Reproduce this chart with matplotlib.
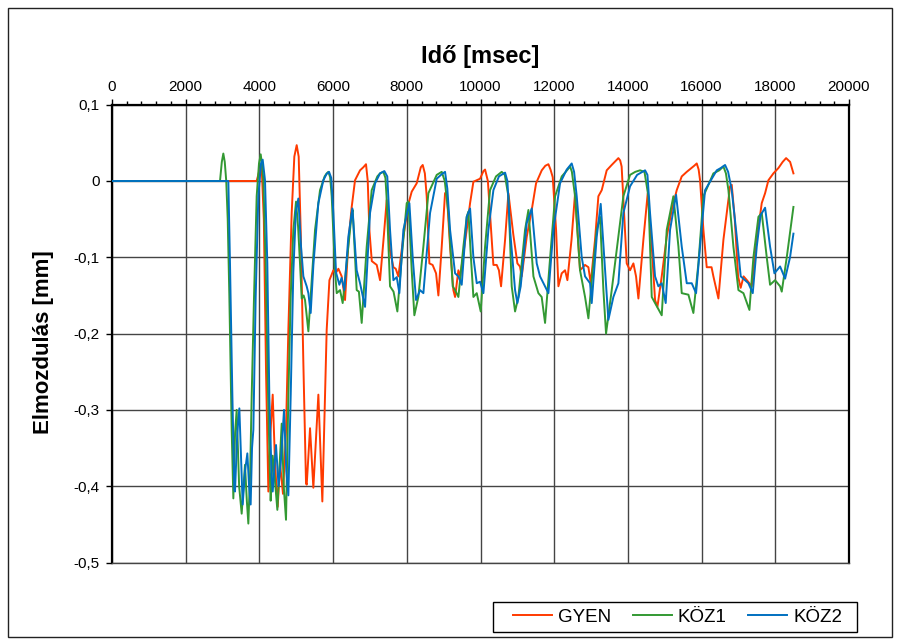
import matplotlib
matplotlib.use("Agg")
import matplotlib.pyplot as plt
from matplotlib.patches import Rectangle
from matplotlib.ticker import MultipleLocator, FuncFormatter

plt.rcParams['font.family'] = ['Liberation Sans', 'DejaVu Sans']

# ---------------- data ----------------
gyen_t = [0, 3926, 3990, 4060, 4120, 4180, 4243, 4300, 4361, 4424, 4497, 4560, 4640, 4720,
          4786, 4876, 4948, 5012, 5066, 5120, 5193, 5265, 5284, 5374, 5464, 5600, 5708, 5826,
          5900, 6007, 6080, 6143, 6233, 6324, 6415, 6505, 6595, 6731, 6820, 6893, 6940, 6984, 7050, 7184,
          7274, 7380, 7455, 7540, 7636, 7700, 7771, 7907, 8043, 8133, 8269, 8380, 8432, 8490, 8540, 8613,
          8700, 8794, 8857, 8948, 9038, 9083, 9174, 9264, 9310, 9400, 9450, 9626, 9717, 9807,
          9988, 10080, 10124, 10200, 10287, 10350, 10440, 10500, 10558, 10667, 10757, 10890, 11001,
          11070, 11119, 11255, 11390, 11508, 11662, 11760, 11843, 11900, 11960, 12051, 12114, 12204, 12295,
          12358, 12470, 12566, 12701, 12837, 12928, 12991, 13108, 13199, 13290, 13425, 13560,
          13680, 13742, 13790, 13830, 13896, 13968, 14058, 14149, 14221, 14285, 14420, 14538, 14647, 14737,
          14801, 14918, 15054, 15190, 15325, 15461, 15597, 15800, 15868, 15920, 15958, 16049, 16139, 16270,
          16320, 16456, 16592, 16682, 16773, 16818, 16900, 16990, 17060, 17140, 17230, 17361,
          17497, 17632, 17723, 17813, 17949, 18085, 18200, 18293, 18402, 18492]
gyen_y = [0, 0, 0.012, 0.02, -0.05, -0.25, -0.407, -0.33, -0.28, -0.37, -0.427, -0.37, -0.41, -0.33,
          -0.195, -0.042, 0.032, 0.047, 0.032, -0.064, -0.239, -0.396, -0.398, -0.324, -0.402, -0.28, -0.42, -0.195,
          -0.13, -0.117, -0.12, -0.115, -0.125, -0.156, -0.08, -0.034, 0.001, 0.014, 0.018, 0.022, 0.0, -0.064, -0.105, -0.11,
          -0.13, -0.07, -0.025, -0.09, -0.113, -0.115, -0.125, -0.073, -0.03, -0.014, -0.003, 0.018, 0.021, 0.01, -0.02, -0.108,
          -0.11, -0.121, -0.15, -0.086, -0.016, -0.014, -0.086, -0.143, -0.152, -0.117, -0.125, -0.064, -0.029, -0.001,
          0.003, 0.013, 0.015, 0.0, -0.064, -0.11, -0.11, -0.117, -0.138, -0.077, -0.016, -0.07, -0.108,
          -0.112, -0.125, -0.073, -0.038, -0.003, 0.014, 0.02, 0.022, 0.015, 0.005, -0.064, -0.138, -0.121, -0.117,
          -0.13, -0.077, -0.016, -0.117, -0.11, -0.113, -0.134, -0.077, -0.02, -0.012, 0.014, 0.021,
          0.027, 0.03, 0.027, 0.019, -0.042, -0.108, -0.117, -0.108, -0.125, -0.154, -0.077, -0.016, -0.086, -0.156,
          -0.165, -0.125, -0.073, -0.038, -0.012, 0.006, 0.012, 0.02, 0.023, 0.015, 0.001, -0.064, -0.113, -0.113,
          -0.125, -0.154, -0.077, -0.042, -0.007, -0.005, -0.05, -0.125, -0.14, -0.125, -0.13, -0.138,
          -0.077, -0.029, -0.016, 0.001, 0.01, 0.017, 0.025, 0.03, 0.025, 0.01]

koz1_t = [0, 2931, 2980, 3021, 3060, 3100, 3140, 3184, 3248, 3293, 3340, 3383, 3450, 3519, 3570,
          3609, 3660, 3700, 3750, 3790, 3854, 3926, 3989, 4035, 4070, 4107, 4170, 4225, 4288,
          4306, 4360, 4400, 4487, 4540, 4605, 4660, 4722, 4786, 4849, 4921, 4994, 5050, 5102,
          5148, 5200, 5238, 5329, 5419, 5510, 5645, 5770, 5826, 5871, 5920, 5962, 6052, 6098, 6188, 6260,
          6369, 6505, 6532, 6595, 6640, 6700, 6776, 6912, 7047, 7200, 7274, 7364, 7420, 7450, 7545, 7640,
          7744, 7862, 7998, 8043, 8133, 8205, 8314, 8450, 8586, 8812, 8880, 8948, 9030, 9129, 9246, 9310,
          9400, 9536, 9626, 9671, 9740, 9807, 9898, 10006, 10124, 10259, 10420, 10576, 10660, 10757, 10847,
          10938, 11028, 11209, 11300, 11436, 11571, 11660, 11752, 11890, 12024, 12205, 12330, 12431, 12480,
          12566, 12701, 12837, 12928, 13018, 13154, 13244, 13335, 13407, 13561, 13742, 13877,
          14058, 14200, 14330, 14450, 14556, 14647, 14737, 14918, 15054, 15234, 15371, 15461, 15642, 15777,
          15913, 16049, 16320, 16480, 16592, 16660, 16728, 16863, 16999, 17135, 17298, 17406, 17542, 17632,
          17768, 17858, 17994, 18130, 18175, 18311, 18492]
koz1_y = [0, 0, 0.025, 0.036, 0.025, 0.0, -0.05, -0.15, -0.326, -0.416, -0.33, -0.30, -0.40, -0.436, -0.40,
          -0.372, -0.42, -0.449, -0.38, -0.283, -0.152, -0.02, 0.023, 0.035, 0.022, 0.001, -0.108, -0.26, -0.39,
          -0.419, -0.36, -0.38, -0.431, -0.38, -0.318, -0.40, -0.444, -0.283, -0.152, -0.064, -0.027, -0.06, -0.108,
          -0.154, -0.15, -0.156, -0.197, -0.13, -0.064, -0.012, 0.006, 0.01, 0.012, 0.005, -0.02, -0.117, -0.147, -0.143, -0.16,
          -0.108, -0.042, -0.038, -0.1, -0.143, -0.145, -0.186, -0.086, -0.012, 0.006, 0.01, 0.012, 0.004, -0.02, -0.138, -0.145,
          -0.171, -0.1, -0.029, -0.027, -0.117, -0.176, -0.152, -0.086, -0.016, 0.008, 0.01, 0.012, 0.0, -0.042, -0.138, -0.143,
          -0.152, -0.086, -0.047, -0.04, -0.1, -0.152, -0.147, -0.171, -0.086, -0.012, 0.006, 0.012, 0.008, -0.02, -0.138,
          -0.171, -0.152, -0.064, -0.038, -0.125, -0.147, -0.152, -0.186, -0.1, -0.02, 0.006, 0.013, 0.019, 0.012,
          -0.02, -0.117, -0.152, -0.18, -0.13, -0.064, -0.047, -0.143, -0.2, -0.143, -0.073, -0.02,
          0.008, 0.012, 0.014, 0.012, -0.02, -0.152, -0.16, -0.176, -0.064, -0.02, -0.086, -0.147, -0.149, -0.173,
          -0.108, -0.02, 0.01, 0.014, 0.019, 0.01, -0.012, -0.086, -0.143, -0.147, -0.169, -0.1, -0.047, -0.042,
          -0.1, -0.136, -0.13, -0.138, -0.145, -0.1, -0.034]

koz2_t = [0, 3157, 3202, 3266, 3320, 3338, 3400, 3456, 3500, 3546, 3610, 3673, 3720, 3763, 3800,
          3836, 3899, 3971, 4044, 4089, 4152, 4215, 4270, 4333, 4361, 4451, 4520, 4580, 4668,
          4730, 4786, 4850, 4920, 4990, 5057, 5130, 5193, 5283, 5329, 5392, 5465, 5600, 5736,
          5820, 5890, 5950, 6007, 6080, 6170, 6230, 6306, 6414, 6523, 6640, 6731, 6867, 7002, 7140, 7274, 7391,
          7470, 7545, 7636, 7727, 7798, 7907, 8070, 8160, 8251, 8360, 8450, 8631, 8812, 8950, 9038, 9100, 9174,
          9310, 9400, 9490, 9626, 9717, 9807, 9898, 9988, 10079, 10214, 10350, 10500, 10667, 10730, 10802,
          10938, 11001, 11091, 11255, 11390, 11526, 11616, 11752, 11843, 11978, 12159, 12340, 12475, 12540,
          12611, 12747, 12837, 12973, 13018, 13154, 13262, 13380, 13470, 13606, 13742, 13877,
          14058, 14250, 14466, 14530, 14601, 14737, 14827, 14918, 15026, 15144, 15307, 15461, 15597, 15732,
          15850, 15958, 16094, 16411, 16520, 16637, 16720, 16818, 16954, 17062, 17180, 17270, 17388, 17497,
          17600, 17723, 17858, 17976, 18130, 18266, 18400, 18492]
koz2_y = [0, 0, -0.108, -0.28, -0.405, -0.407, -0.33, -0.298, -0.36, -0.424, -0.38, -0.357, -0.40, -0.424, -0.35,
          -0.326, -0.152, -0.02, 0.023, 0.028, 0.001, -0.108, -0.283, -0.39, -0.407, -0.346, -0.40, -0.37, -0.30,
          -0.38, -0.412, -0.28, -0.12, -0.04, -0.023, -0.086, -0.125, -0.138, -0.147, -0.173, -0.11, -0.029, 0.001,
          0.009, 0.012, 0.004, -0.042, -0.12, -0.136, -0.127, -0.143, -0.073, -0.036, -0.117, -0.134, -0.165, -0.042, -0.003, 0.01, 0.013,
          0.006, -0.064, -0.13, -0.126, -0.147, -0.064, -0.029, -0.1, -0.156, -0.143, -0.147, -0.042, 0.003, 0.009, 0.012, -0.01, -0.064,
          -0.121, -0.125, -0.136, -0.047, -0.036, -0.1, -0.134, -0.132, -0.147, -0.064, -0.012, 0.006, 0.011, 0.0, -0.064,
          -0.143, -0.16, -0.138, -0.055, -0.036, -0.108, -0.125, -0.138, -0.147, -0.064, -0.003, 0.015, 0.023, 0.012,
          -0.02, -0.1, -0.125, -0.134, -0.16, -0.073, -0.03, -0.117, -0.182, -0.152, -0.134, -0.042,
          -0.007, 0.008, 0.014, 0.008, -0.042, -0.125, -0.138, -0.134, -0.16, -0.064, -0.018, -0.086, -0.134, -0.134,
          -0.147, -0.086, -0.012, 0.014, 0.017, 0.021, 0.012, -0.012, -0.073, -0.125, -0.13, -0.134, -0.147, -0.086,
          -0.045, -0.035, -0.086, -0.121, -0.112, -0.128, -0.1, -0.069]

series_names = ['GYEN', 'KÖZ1', 'KÖZ2']
x_ticks = [0, 2000, 4000, 6000, 8000, 10000, 12000, 14000, 16000, 18000, 20000]
y_ticks = [-0.5, -0.4, -0.3, -0.2, -0.1, 0.0, 0.1]
x_title = 'Idő [msec]'
y_title = 'Elmozdulás [mm]'

# ---------------- figure ----------------
W, H = 899, 643
fig = plt.figure(figsize=(W / 100, H / 100), dpi=100)
fig.patch.set_facecolor('white')

# outer chart border
fig.patches.append(Rectangle((8 / W, 1 - 637 / H), (892 - 8) / W, (637 - 8) / H,
                             transform=fig.transFigure, fill=False,
                             edgecolor='#222222', linewidth=1.0))

left, right, top, bottom = 112, 849, 104.7, 562.5
ax = fig.add_axes([left / W, 1 - bottom / H, (right - left) / W, (bottom - top) / H])

colors = ['#FF3A00', '#339933', '#0070C0']
ax.plot(gyen_t, gyen_y, color=colors[0], lw=1.4, label=series_names[0], zorder=3)
ax.plot(koz1_t, koz1_y, color=colors[1], lw=1.4, label=series_names[1], zorder=4)
ax.plot(koz2_t, koz2_y, color=colors[2], lw=1.4, label=series_names[2], zorder=5)

ax.set_xlim(0, 20000)
ax.set_ylim(-0.5, 0.1)
ax.set_xticks(x_ticks)
ax.set_yticks(y_ticks)
ax.xaxis.set_minor_locator(MultipleLocator(400))
ax.xaxis.tick_top()
ax.xaxis.set_label_position('top')

def yfmt(v, pos):
    s = '%g' % round(v, 2)
    if s == '-0':
        s = '0'
    return s.replace('.', ',')

ax.yaxis.set_major_formatter(FuncFormatter(yfmt))
ax.tick_params(axis='x', which='major', direction='out', length=4, width=1,
               labelsize=11, pad=4, top=True, bottom=False)
ax.tick_params(axis='x', which='minor', direction='out', length=3, width=1,
               top=True, bottom=False)
ax.tick_params(axis='y', which='major', direction='out', length=4, width=1,
               labelsize=11, pad=5)

ax.grid(True, which='major', color='#444444', lw=1.0, zorder=1)
ax.set_axisbelow(True)

for s in ['top', 'left', 'right']:
    ax.spines[s].set_linewidth(1.6)
    ax.spines[s].set_color('black')
ax.spines['bottom'].set_linewidth(1.0)
ax.spines['bottom'].set_color('#444444')

ax.set_xlabel(x_title, fontsize=17, fontweight='bold', labelpad=12)
ax.set_ylabel(y_title, fontsize=16, fontweight='bold')
ax.yaxis.set_label_coords((54 - left) / (right - left), (bottom - 342) / (bottom - top))

# legend box drawn separately to match its padding
fig.patches.append(Rectangle((492.7 / W, 1 - 632.3 / H), (856.7 - 492.7) / W, 30 / H,
                             transform=fig.transFigure, fill=False,
                             edgecolor='black', linewidth=1.0))
leg = fig.legend(loc='center', bbox_to_anchor=(677.5 / W, 1 - 617.3 / H), ncol=3,
                 fontsize=13.5, frameon=False, handlelength=2.1,
                 handletextpad=0.3, columnspacing=1.15, borderpad=0.0)

fig.savefig('out.png', dpi=100, facecolor='white')
